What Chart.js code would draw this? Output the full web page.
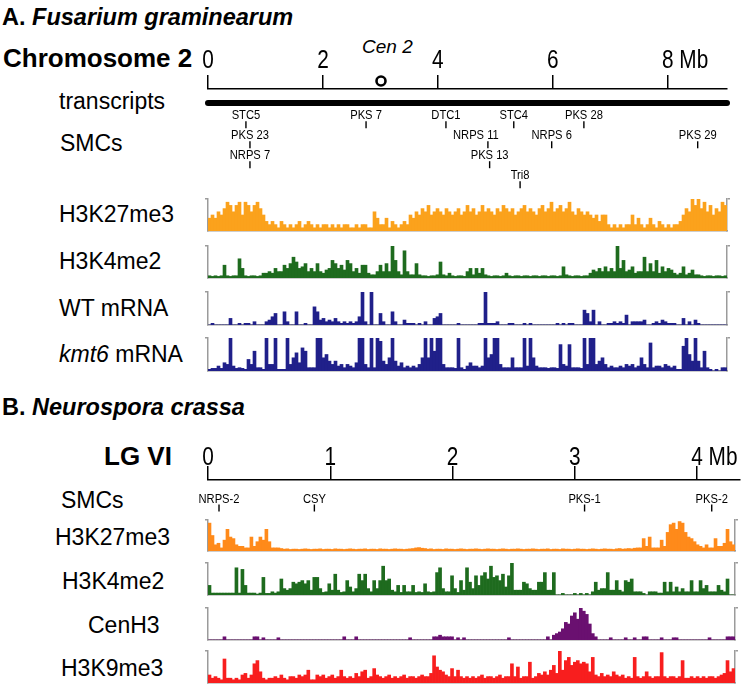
<!DOCTYPE html>
<html>
<head>
<meta charset="utf-8">
<script src="https://cdn.jsdelivr.net/npm/chart.js@4.4.1/dist/chart.umd.min.js"></script>
<style>
  body { margin: 0; background: #fff; }
  #fig { position: relative; width: 745px; height: 694px; overflow: hidden; background: #fff;
         font-family: "Liberation Sans", Arial, sans-serif; color: #000; }
  .lbl { position: absolute; white-space: nowrap; line-height: 1; }
  canvas { position: absolute; left: 0; }
</style>
</head>
<body>
<div id="fig"></div>
<script>
// ---- panel A: Fusarium graminearum, chromosome 2 ----
const chrA_len = 9.03;
const chrA_ticks = [0, 2, 4, 6, 8];
const cenA_pos = 3.01;
const smcA_names = ["STC5", "PKS 7", "DTC1", "STC4", "PKS 28", "PKS 23", "NRPS 11", "NRPS 6", "PKS 29", "NRPS 7", "PKS 13", "Tri8"];
const smcA_pos = [0.66, 2.75, 4.14, 5.32, 6.54, 0.73, 4.87, 5.98, 8.52, 0.73, 4.90, 5.43];
const smcA_row = [1, 1, 1, 1, 1, 2, 2, 2, 2, 3, 3, 4];

const aK27 = [
  4,5,4,6,5,7,9,8,6,8, 9,5,9,8,6,8,9,7,5,3, 2,3,2,1,3,2,1,2,1,2, 3,1,2,3,2,1,2,1,2,2,
  1,2,1,2,1,2,2,1,1,2, 1,2,2,1,1,6,4,2,2,4, 1,3,2,1,2,3,2,5,4,6, 5,7,6,8,5,6,7,6,5,7,
  6,5,6,7,5,6,8,6,7,5, 6,8,6,7,6,5,7,6,8,7, 6,7,5,6,7,8,6,7,6,5, 7,8,6,7,9,6,7,8,6,7,
  9,6,5,7,6,5,6,5,4,5, 3,5,5,2,1,2,1,2,1,2, 2,5,2,4,2,1,2,4,2,1, 3,2,1,2,1,2,2,3,5,7,
  6,10,8,10,7,9,6,8,5,7, 6,9,8
];
const aK4 = [
  0.7,0.5,0.7,0.5,0.7,4,0.7,0.5,0.7,0.7, 6,3,0.7,0.5,0.7,0.7,0.5,0.7,1.5,1.5,
  2,1.5,3,2,2,4,3,4.5,6.5,5, 3,3.5,4.5,2,3,2,4.5,2,1.5,2.5,
  3,5.5,4.5,3,4,2.5,5.5,4.5,2,3, 1.5,4,4,1.5,1,1,2,4,2,4.5,
  2,10,5.5,2,1,8.5,2,1,1,4.5, 1,0.7,0.7,0.5,0.7,0.7,1,5,1,0.7,
  1.5,0.7,0.5,0.7,0.7,0.5,2,3,1,3, 1.5,3,1,0.7,0.5,0.7,0.7,0.5,0.7,1.5,
  0.7,0.5,0.7,0.7,0.5,0.7,0.7,0.5,0.7,0.7, 0.5,0.7,0.7,0.5,0.7,0.7,0.5,0.7,3.5,1,
  0.7,0.5,0.7,0.7,0.5,0.7,0.7,1.5,2.5,2, 3,2,3.5,2,3,2,10,3,5.5,2,
  2.5,3.5,1.5,2,2,6.5,2,4.5,2,5.5, 1.5,3.5,2,3,2.5,1.5,1,1.5,3.5,1,
  1.5,2.5,1,1,0.7,0.5,0.7,0.7,0.5,0.7, 0.7,0.5,0.7
];
const aWT = [
  0,0.5,0,0,0,0,0,2,0,0, 0.5,0,0.5,0.5,0,1,0,0,0,1, 1.5,2.5,3.5,0,0,4,1,0,0,4,
  0,0,0.5,0,0,5.5,4,1.5,2,1, 1.5,1,2,1,0.5,1,0.5,1,0.5,1, 2.5,10,1,0,10,0,0,3.5,1,0,
  0,4,1,0,0,1.5,0.5,0.5,0.5,0, 0.5,0,1,0,0,2,2.5,3.5,0,0, 0,0,0,0.5,0,0,0,0,0,0,
  0.5,0.5,10,0.5,0.5,0.5,1,0,0,0, 0.5,0.5,0,0,0,0.5,0,0.5,0,0, 0,0,0,0,0,0,0.5,0,0.5,0,
  0.5,0.5,0,0,0,4.5,3.5,1,4.5,0, 1,0,0,0.5,0.5,1,0.5,1,0.5,3, 0,1,1,1,1,1.5,0,0,0.5,1,
  0.5,1.5,1,0.5,0.5,0.5,0,0,2,0, 1,0,1.5,0.5,0,0,0,0,0,0, 0,0,0
];
const aKmt6 = [
  0.5,0.8,0.8,1.5,0.8,2.5,2,10,1.5,0.8, 1,0.8,0.5,3.5,2,6,1,1,0.5,10,
  2,2,10,0.5,0.5,0.5,10,2,4,5.5, 2.5,7,6,1,1,1,10,10,4,5,
  3,2,3,1.5,2,1,2,1.5,1,2.5, 10,10,2,1,10,1,10,9,3,2,
  4,10,3,1.5,2.5,1,1.5,1,1.5,1, 2,4,10,4,10,6,10,10,2,1,
  1,1,0.8,10,1,0.5,1.5,2.5,1.5,1.5, 1,1.5,10,4,5,10,10,2,1,1,
  1,4,1,1,1,10,1.5,10,4,1.5, 1,1,1,0.8,1,1,0.8,8,2,1.5,
  8,1,1,1,0.8,10,2,10,10,2, 3,4,2,1,1.5,1,1,1.5,1,2,
  1.5,2,1,1.5,4,2,1,8.5,1,1.5, 1.5,1,2,1.5,1,1.5,0.5,0.5,7.5,10,
  5,3,10,3,1,6,1,0.5,0,0.5, 0,1,1
];

// ---- panel B: Neurospora crassa, LG VI ----
const lgB_len = 4.348;
const lgB_ticks = [0, 1, 2, 3, 4];
const smcB_names = ["NRPS-2", "CSY", "PKS-1", "PKS-2"];
const smcB_pos = [0.09, 0.87, 3.08, 4.12];
const smcB_row = [1, 1, 1, 1];

const bK27 = [
  9,5,2,2.5,1,3.5,7,4.5,4,2, 1.5,1.5,1,1,4.5,1.5,3,4.5,3.5,7, 3,1,1,1,0.8,0.6,0.7,0.5,0.6,0.6,
  0.5,0.6,0.7,0.6,0.5,0.6,0.6,0.7,0.5,0.6, 0.6,0.5,0.7,0.6,0.6,0.5,0.6,0.7,0.6,0.5,
  0.6,0.6,0.7,0.5,0.6,0.6,0.5,0.7,0.6,0.6, 0.5,0.6,0.7,0.6,0.6,0.5,0.6,0.7,0.8,1,
  1.1,0.9,0.8,0.6,0.7,0.5,0.6,0.6,0.5,0.7, 0.6,0.6,0.5,0.6,0.7,0.6,0.5,0.6,0.6,0.7,
  0.6,0.5,0.6,0.7,0.6,0.6,0.5,0.6,0.7,0.6, 0.5,0.6,0.6,0.7,0.6,0.5,0.6,0.6,0.7,0.6,
  0.5,0.6,0.6,0.7,0.5,0.6,0.6,0.5,0.7,0.6, 0.6,0.5,0.6,0.7,0.6,0.6,0.5,0.6,0.7,0.6,
  0.5,0.6,0.7,0.6,0.6,0.5,0.7,0.8,0.6,0.7, 0.8,0.7,0.9,1,1,4,1.5,4.5,1,1,
  1,3.5,1.5,6,8.5,9,7,9.5,9,6, 4.5,4,3,2,1.5,1,2,1,1,4, 1.5,1.5,2.5,7,3,2
];
const bK4 = [
  3,0.6,0.6,0.6,0.6,0.6,0.6,0.6,0.6,8.5, 0.6,8,3,0.6,0.6,0.6,0.3,0.6,5.5,0.5,
  0.5,1,0.6,1,5,2,1.5,2,4,3.5, 4,4.5,3.5,4.5,1.5,5.5,5.5,2,0.8,1,
  3.5,1.5,6.5,1.5,0.8,1,4.5,2.5,1,2, 6.5,4.5,6.5,2,1,4.5,2,4.5,9,4.5,
  5,1.5,1,3,0.8,3,1,1,3,0.8, 1,0.8,3.5,1,0.8,1,7,8.5,2,1,
  1,6,2,0.8,4.5,1.5,8.5,4,2,6, 3,6,7,5,9,5.5,6,4.5,6.5,2.5,
  6,10,1.5,1.5,1.5,4,3.5,2,1.5,1.5, 4,4,7,1.5,1.5,7,0,0,0.5,0,
  0,0,0.5,0,0.5,0,0.5,0,1,4, 1.5,2,2,7,1.5,1.5,4.5,1.5,1,4.5,
  4,5,1,1,1,0.5,0,1,1,1, 0.6,0.6,4,1,4,1,2.5,1,2,1,
  1,4.5,1,1,4.5,2,3,1,1,1, 3,1.5,1,5,0,0
];
const bCen = [
  0,0,0,0,0,1,0,0,0,0, 0,0,0,0,0,1,1,0,0.7,0, 0,0,0,0.7,0,0,0,0,0,0,
  0,0,0,0,0,0,0,0,0,0, 0,0,0,0,0,1,0,0,0,1, 0,0,0,0,0,0,0,0,0,0,
  0,0,0,0,0,0,0,0.7,0,0, 0,0,0,0,0,1,1,1.5,1,1, 1,1,0,0.7,0,0.7,0,0,0,0,
  0,0,0,0,0,0,0,0,0,0, 0.7,0,0,0,0,0,0,0,0,0, 0,0,0,1,0,1.5,2,2.5,3.5,5.5,
  5,7.5,8.5,6.5,10,9,8,5,2,1, 0,0,0,0,0.7,0,0,0,0,0.7, 0,0,0.7,0,0,1,1,0,0,0,
  0,0.7,0,0,0,0.7,0.7,0,0,0, 0,0,0,0,0,0,0,0.7,0,0, 0,0,0,1,1,1
];
const bK9 = [
  2.5,1.5,2,1.5,1,7.5,1.5,1.5,1,1.5, 1,2.5,3,1.5,2.5,6,7,3.5,1.5,1,
  1.5,1.5,2,1.5,2.5,1.5,1,2,2,1.5, 2.5,2,2.5,4,1,1,2.5,2,2.5,1.5,
  2,2.5,1.5,2,4,2,1.5,2,1.5,3, 2,3.5,4,1.5,2,4.5,2.5,2,1.5,2,
  2.5,1.5,2,1.5,2,2.5,1.5,2,2,1.5, 2,2.5,2,2,3,8.5,5,4,3.5,2.5,
  2,4.5,2,4,2,1.5,2,1.5,2,1.5, 2,2.5,1.5,2,2,1.5,2,2.5,1.5,2,
  2,6,2,5,1.5,2,2,6.5,1.5,2, 3,2.5,3.5,2.5,4,5.5,3,10,4,7,
  8,5.5,6.5,7,6,6.5,6,3.5,8,2.5, 2,3,2,2.5,2,3.5,2.5,2,2.5,1.5,
  2,1.5,8,2,1.5,2,3.5,2,1.5,2, 2,9.5,2,1.5,2,2,1.5,2,7,1.5,
  1.5,2,1.5,2,1.5,2,1.5,2,2,1.5, 2,2.5,3,7,3.5,4.5
];

const fig = document.getElementById('fig');

function addText(html, left, cy, size, weight) {
  const d = document.createElement('div');
  d.className = 'lbl';
  d.innerHTML = html;
  d.style.left = left + 'px';
  d.style.top = (cy - size * 0.5) + 'px';
  d.style.fontSize = size + 'px';
  if (weight) d.style.fontWeight = weight;
  fig.appendChild(d);
  return d;
}

function makeCanvas(top, height) {
  const cv = document.createElement('canvas');
  cv.width = 745;
  cv.height = height;
  cv.style.top = top + 'px';
  fig.appendChild(cv);
  return cv;
}

const GRAY = '#9b9b9b';
const noPlugins = { legend: { display: false }, tooltip: { enabled: false } };

function edgeAxis(pos) {
  return {
    type: 'linear', position: pos, min: 0, max: 10,
    ticks: { display: false },
    grid: { drawOnChartArea: false, tickLength: 3, color: GRAY, lineWidth: 1.5 },
    border: { color: GRAY, width: 1.5 },
    afterBuildTicks: (axis) => { axis.ticks = [{ value: 10 }]; },
    afterFit: (axis) => { axis.width = 0; }
  };
}

function trackChart(values, color, top, bottom, right) {
  const pad = 4;
  const cv = makeCanvas(top - pad, bottom - top + 2 * pad);
  return new Chart(cv, {
    type: 'bar',
    data: {
      labels: values.map((v, i) => i),
      datasets: [{ data: values, backgroundColor: color, borderWidth: 0, barPercentage: 1, categoryPercentage: 1 }]
    },
    options: {
      responsive: false, animation: false, devicePixelRatio: 1,
      layout: { padding: { left: 208, right: 745 - right, top: pad, bottom: pad } },
      plugins: noPlugins,
      scales: {
        x: {
          ticks: { display: false }, grid: { display: false },
          border: { color: GRAY, width: 1.5 },
          afterFit: (axis) => { axis.height = 0; }
        },
        y: edgeAxis('left'),
        y2: edgeAxis('right')
      }
    }
  });
}

// tick numbers, "Mb" unit and gene names, placed with the chart's own scales
const rulerText = {
  id: 'rulerText',
  afterDraw(chart, args, opts) {
    const { ctx, scales: { x, y } } = chart;
    const narrow = 0.8;
    ctx.save();
    ctx.fillStyle = '#000';
    ctx.textBaseline = 'alphabetic';
    ctx.font = '26px "Liberation Sans", Arial, sans-serif';
    const base = chart.chartArea.top - opts.tickGap;
    opts.ticks.forEach((v, i) => {
      const px = x.getPixelForValue(v);
      const last = i === opts.ticks.length - 1;
      const w = ctx.measureText(String(v)).width;
      ctx.save();
      ctx.translate(px, base);
      ctx.scale(narrow, 1);
      ctx.textAlign = 'left';
      ctx.fillText(last ? v + ' Mb' : String(v), -w / 2, 0);
      ctx.restore();
    });
    ctx.font = '13px "Liberation Sans", Arial, sans-serif';
    ctx.textAlign = 'center';
    chart.data.datasets[opts.geneSet].data.forEach((g) => {
      const px = x.getPixelForValue(g.x) + (opts.shift[g.name] || 0);
      const py = y.getPixelForValue(g.y) - 5.5;
      ctx.save();
      ctx.translate(px, py);
      ctx.scale(0.86, 1);
      ctx.fillText(g.name, 0, 0);
      ctx.restore();
    });
    ctx.restore();
  }
};

function rulerChart(o) {
  const cv = makeCanvas(o.top, o.height);
  const genes = o.names.map((n, i) => ({ x: o.pos[i], y: o.rowBase + o.rows[i], name: n }));
  const datasets = [];
  if (o.transcripts) {
    datasets.push({
      type: 'line', data: [{ x: 0, y: o.transcripts }, { x: o.len, y: o.transcripts }],
      borderColor: '#000', borderWidth: 6, borderCapStyle: 'round', pointRadius: 0, clip: false
    });
  }
  datasets.push({
    type: 'scatter', data: genes, pointStyle: 'line', pointRotation: 90, pointRadius: 3.5,
    pointBorderWidth: 1.4, pointBorderColor: '#000', clip: false
  });
  return new Chart(cv, {
    type: 'scatter',
    data: { datasets },
    options: {
      responsive: false, animation: false, devicePixelRatio: 1,
      layout: { padding: { left: 208, right: 745 - o.right, top: o.padTop, bottom: o.padBottom } },
      plugins: Object.assign({
        rulerText: { ticks: o.ticks, tickGap: o.tickGap, geneSet: datasets.length - 1, shift: o.shift || {} }
      }, noPlugins),
      scales: {
        x: {
          type: 'linear', position: 'top', min: 0, max: o.len,
          ticks: { display: false },
          grid: { drawOnChartArea: false, tickLength: 14, color: '#000', lineWidth: 1.5 },
          border: { color: '#000', width: 1.5 },
          afterBuildTicks: (axis) => { axis.ticks = o.ticks.map((v) => ({ value: v })); },
          afterFit: (axis) => { axis.height = 14; }
        },
        y: { type: 'linear', display: false, min: 0, max: o.yMax, reverse: true }
      }
    },
    plugins: [rulerText]
  });
}

function cenChart(pos, len, top, right) {
  const cv = makeCanvas(top, 30);
  return new Chart(cv, {
    type: 'scatter',
    data: { datasets: [{ data: [{ x: pos, y: 0.5 }], pointRadius: 4.5, pointBorderWidth: 2.6,
                          pointBorderColor: '#000', pointBackgroundColor: '#fff' }] },
    options: {
      responsive: false, animation: false, devicePixelRatio: 1,
      layout: { padding: { left: 208, right: 745 - right, top: 0, bottom: 0 } },
      plugins: noPlugins,
      scales: {
        x: { type: 'linear', display: false, min: 0, max: len },
        y: { type: 'linear', display: false, min: 0, max: 1 }
      }
    }
  });
}

// ---- panel A ----
addText('<b>A. <i>Fusarium graminearum</i></b>', 2, 18, 23.5);
addText('Chromosome 2', 3, 58, 26, 'bold');
addText('<i>Cen 2</i>', 362, 46, 19);
addText('transcripts', 59, 101, 23);
addText('SMCs', 60, 143, 23);
addText('H3K27me3', 59, 214, 23);
addText('H3K4me2', 59, 261, 23);
addText('WT mRNA', 59, 308, 23);
addText('<i>kmt6</i> mRNA', 59, 354, 23);

rulerChart({
  top: 30, height: 170, padTop: 45, padBottom: 5, right: 727, len: chrA_len, yMax: 5.3,
  ticks: chrA_ticks, tickGap: 21, transcripts: 0.7, rowBase: 0.8,
  names: smcA_names, pos: smcA_pos, rows: smcA_row, shift: { 'NRPS 11': -12 }
});
cenChart(cenA_pos, chrA_len, 66, 727);

trackChart(aK27, '#FBA21C', 199, 231, 727);
trackChart(aK4, '#1E6B1E', 246, 278, 727);
trackChart(aWT, '#20208A', 292, 325, 727);
trackChart(aKmt6, '#20208A', 338, 371, 727);

// ---- panel B ----
addText('<b>B. <i>Neurospora crassa</i></b>', 2, 408, 23.5);
addText('LG VI', 104, 456, 26, 'bold');
addText('SMCs', 61, 500, 23);
addText('H3K27me3', 55, 537, 23);
addText('H3K4me2', 62, 581, 23);
addText('CenH3', 88, 625, 23);
addText('H3K9me3', 61, 668, 23);

rulerChart({
  top: 430, height: 90, padTop: 36, padBottom: 10, right: 745, len: lgB_len, yMax: 1.5,
  ticks: lgB_ticks, tickGap: 15, transcripts: null, rowBase: 0.4,
  names: smcB_names, pos: smcB_pos, rows: smcB_row
});

trackChart(bK27, '#FF8A1A', 520, 551, 735);
trackChart(bK4, '#1E6B1E', 563, 595, 735);
trackChart(bCen, '#6A1070', 608, 640, 735);
trackChart(bK9, '#F81E1E', 651, 683, 735);
</script>
</body>
</html>
